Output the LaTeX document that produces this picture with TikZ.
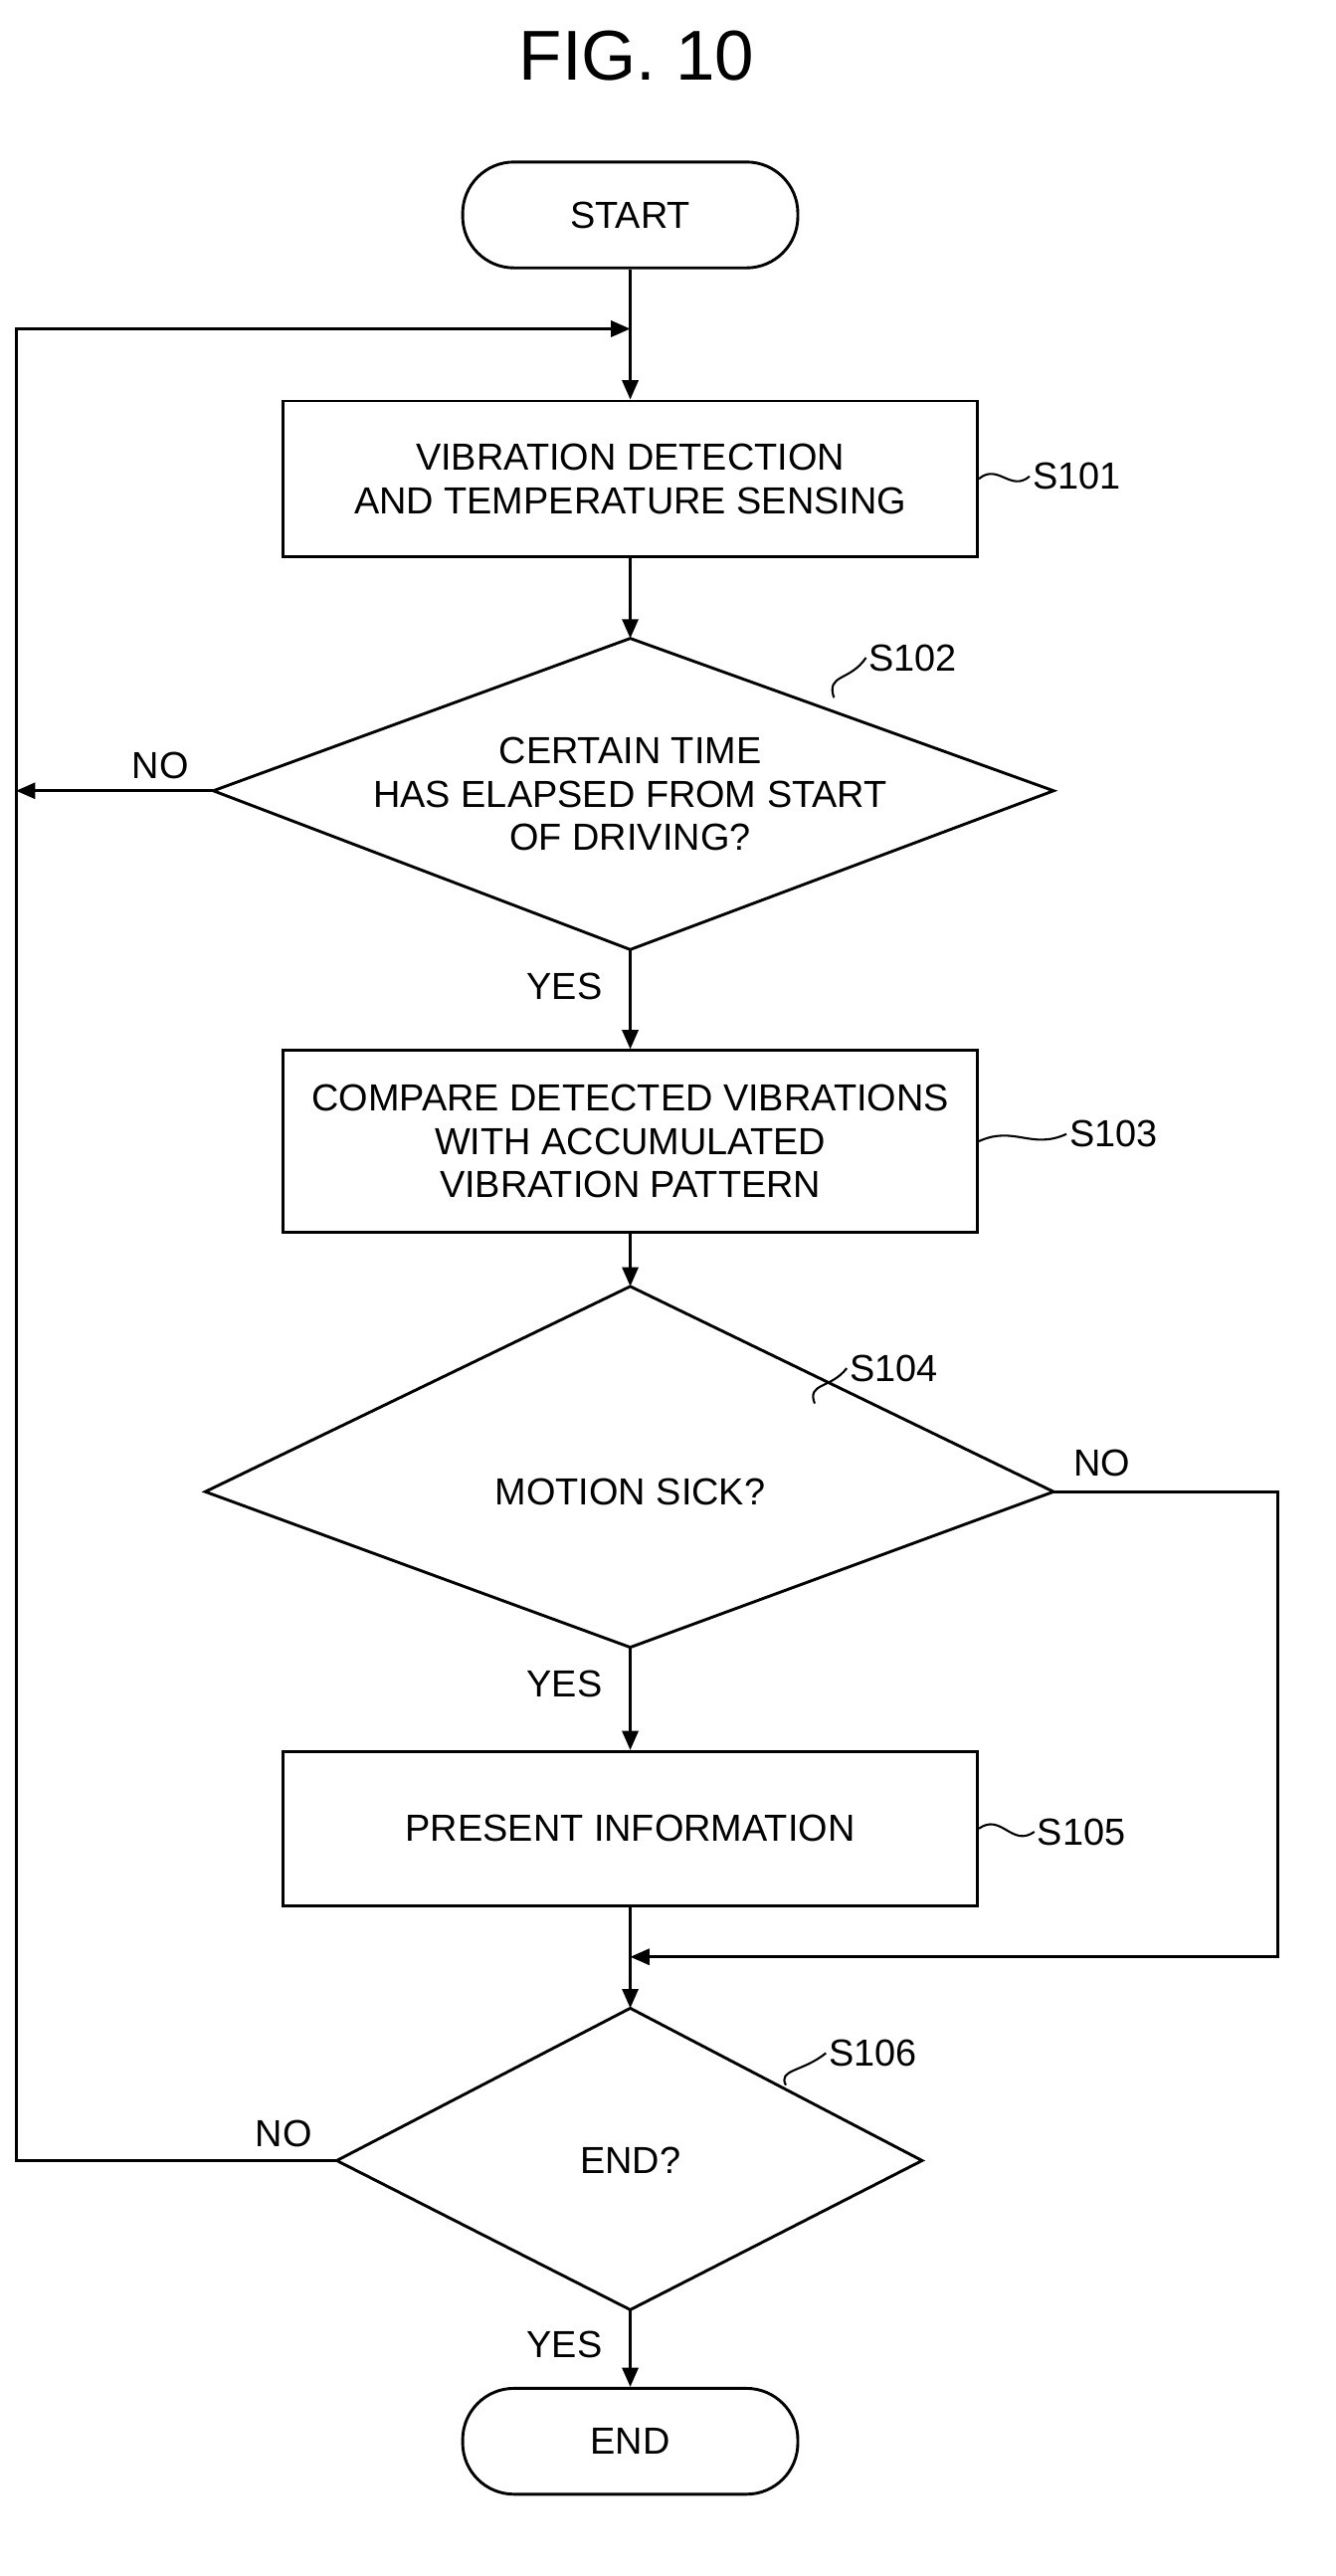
\documentclass[tikz,border=0pt]{standalone}
\usepackage{fontspec}
\setmainfont{Liberation Sans}
\usetikzlibrary{shapes.geometric,arrows.meta}
\begin{document}
\begin{tikzpicture}[x=1pt,y=-1pt,
  line width=1.8pt,
  >={Triangle[length=12pt,width=10pt]},
  txt/.style={font=\fontsize{23.5}{27}\selectfont,align=center},
  box/.style={draw,minimum width=433pt,inner sep=0pt,txt},
  term/.style={draw,rounded corners=32pt,minimum width=209pt,minimum height=66pt,txt},
  lab/.style={txt,inner sep=1pt}]
\useasboundingbox (0,0) rectangle (833,1606);
\node[font=\fontsize{44}{50}\selectfont] (title) at (397,35) {FIG. 10};
\node[term] (start) at (393,134) {START};
\node[box,minimum height=97pt] (s101) at (393,298.5) {VIBRATION DETECTION\\AND TEMPERATURE SENSING};
\coordinate (d2t) at (393,398); \coordinate (d2l) at (133,493); \coordinate (d2r) at (657,493); \coordinate (d2b) at (393,592);
\draw (d2t)--(d2r)--(d2b)--(d2l)--cycle;
\node[txt] (s102t) at (393,495) {CERTAIN TIME\\HAS ELAPSED FROM START\\OF DRIVING?};
\node[box,minimum height=113pt] (s103) at (393,711.5) {COMPARE DETECTED VIBRATIONS\\WITH ACCUMULATED\\VIBRATION PATTERN};
\coordinate (d4t) at (393,802); \coordinate (d4l) at (128,930); \coordinate (d4r) at (657,930); \coordinate (d4b) at (393,1027);
\draw (d4t)--(d4r)--(d4b)--(d4l)--cycle;
\node[txt] (s104t) at (393,930) {MOTION SICK?};
\node[box,minimum height=96pt] (s105) at (393,1140) {PRESENT INFORMATION};
\coordinate (d6t) at (393,1252); \coordinate (d6l) at (210,1347); \coordinate (d6r) at (575,1347); \coordinate (d6b) at (393,1440);
\draw (d6t)--(d6r)--(d6b)--(d6l)--cycle;
\node[txt] (s106t) at (393,1347) {END?};
\node[term] (end) at (393,1522) {END};
% step labels
\node[lab,anchor=west] (l101) at (642,297) {S101};
\node[lab,anchor=west] (l102) at (540,410) {S102};
\node[lab,anchor=west] (l103) at (665,707) {S103};
\node[lab,anchor=west] (l104) at (528,853) {S104};
\node[lab,anchor=west] (l105) at (645,1142) {S105};
\node[lab,anchor=west] (l106) at (515,1280) {S106};
\draw[line width=1.3pt] (s101.east) .. controls +(12,-10) and +(-12,10) .. (l101.west);
\draw[line width=1.3pt] (s103.east) .. controls +(22,-10) and +(-22,10) .. (l103.west);
\draw[line width=1.3pt] (s105.east) .. controls +(14,-10) and +(-14,10) .. (l105.west);
\draw[line width=1.3pt] (520,435) .. controls (515,420) and (530,425) .. (l102.west);
\draw[line width=1.3pt] (508,875) .. controls (503,862) and (518,866) .. (l104.west);
\draw[line width=1.3pt] (490,1300) .. controls (485,1290) and (500,1292) .. (l106.west);
% flow
\coordinate (j1) at (393,205);
\draw[->] (start) -- (s101.north);
\draw[->] (s101.south) -- (d2t);
\draw[->] (d2b) -- (s103.north);
\draw[->] (s103.south) -- (d4t);
\draw[->] (d4b) -- (s105.north);
\draw[->] (s105.south) -- (d6t);
\draw[->] (d6b) -- (end.north);
\draw[->] (d2l) -- (10,493);
\draw[->] (d6l) -- (10,1347) -- (10,205) -- (j1);
\draw[->] (d4r) -- (797,930) -- (797,1220) -- (393,1220);
\node[txt] (no2) at (100,477) {NO};
\node[txt] (yes2) at (352,615) {YES};
\node[txt] (no4) at (687,912) {NO};
\node[txt] (yes4) at (352,1050) {YES};
\node[txt] (no6) at (177,1330) {NO};
\node[txt] (yes6) at (352,1462) {YES};
\end{tikzpicture}
\end{document}
